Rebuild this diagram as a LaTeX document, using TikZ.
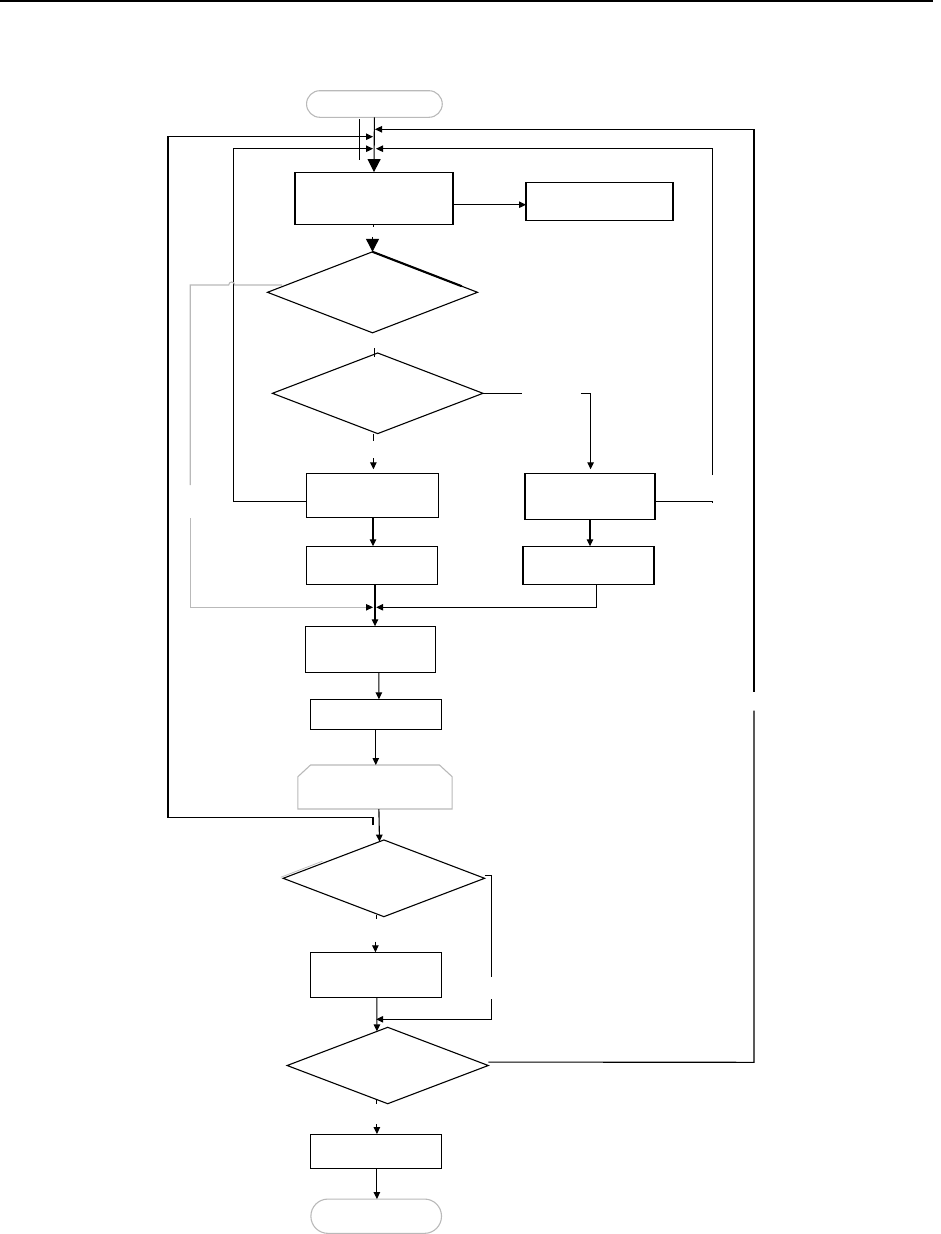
\documentclass[tikz,border=0pt]{standalone}
\usetikzlibrary{arrows.meta,shapes.geometric,calc}
\begin{document}
\begin{tikzpicture}[x=1pt,y=-1pt]
\tikzset{
  ln/.style={line width=1.1pt},
  box/.style={draw, rectangle, inner sep=0pt, outer sep=0pt, line width=1.1pt},
  dia/.style={draw, diamond, inner sep=0pt, outer sep=0pt, line width=1.1pt},
  term/.style={draw=gray!55, rectangle, inner sep=0pt, outer sep=0pt, line width=1.1pt},
  arr/.style={ln, -{Triangle[length=7pt,width=6.5pt]}},
  bigarr/.style={ln, -{Triangle[length=13pt,width=13pt]}},
  grayln/.style={draw=gray!55, line width=1.1pt},
  grayarr/.style={grayln, -{Triangle[length=7pt,width=6.5pt,color=black]}},
}
\useasboundingbox (0,0) rectangle (941,1234);
% page rule
\draw[line width=1.2pt] (0,1) -- (933,1);

% nodes
\node[term, minimum width=135.7pt, minimum height=26.6pt, rounded corners=13.3pt] (start) at (374.4,104) {};
\node[box, minimum width=158pt, minimum height=52.3pt] (b1) at (374,198.2) {};
\node[box, minimum width=147pt, minimum height=38pt] (b2) at (599.5,201.3) {};
\node[dia, minimum width=210pt, minimum height=81pt] (d1) at (372.5,292.3) {};
\node[dia, minimum width=210.5pt, minimum height=80.6pt] (d2) at (377.7,393.3) {};
\node[box, minimum width=131.8pt, minimum height=44pt] (b3) at (372.4,495.3) {};
\node[box, minimum width=130pt, minimum height=46pt] (b4) at (590,496.3) {};
\node[box, minimum width=130.6pt, minimum height=38pt] (b5) at (371.8,565.3) {};
\node[box, minimum width=131pt, minimum height=38pt] (b6) at (588.5,565.3) {};
\node[box, minimum width=130.2pt, minimum height=46pt] (b7) at (370.8,649.3) {};
\node[box, minimum width=130.2pt, minimum height=30pt] (b8) at (376,714.3) {};
\node[rectangle, inner sep=0pt, outer sep=0pt, minimum width=154.3pt, minimum height=44pt] (s9) at (375,787) {};
\draw[grayln] (s9.south west) -- ($(s9.north west)+(0,11.7)$) -- ($(s9.north west)+(12.7,0)$)
  -- ($(s9.north east)+(-12.7,0)$) -- ($(s9.north east)+(0,11.7)$) -- (s9.south east) -- cycle;
\node[dia, minimum width=201.4pt, minimum height=76.7pt] (d3) at (383.9,878.3) {};
\node[box, minimum width=130.2pt, minimum height=45pt] (b10) at (376,974.8) {};
\node[dia, minimum width=201.1pt, minimum height=76.4pt] (d4) at (387.7,1065.5) {};
\node[box, minimum width=130.2pt, minimum height=34.3pt] (b11) at (376,1151.2) {};
\node[term, minimum width=130.6pt, minimum height=34.3pt, rounded corners=17pt] (end) at (376.2,1216.2) {};

% decorative details of the shapes
\draw[line width=2.1pt] (d1.north) -- ($(d1.north)!0.85!(d1.east)$);
\draw[gray!50, line width=0.8pt] ($(d3.west)+(-2.5,-1)$) -- ($(d3.west)!0.4!(d3.north)+(-1,-1.8)$);

% junction points on the main line
\coordinate (jR) at (375,129.3);
\coordinate (jL) at (373,136.7);
\coordinate (jIL) at (373,148.7);
\coordinate (jIR) at (376,148.7);
\coordinate (jB) at (373,607.3);
\coordinate (jB2) at (376.2,607.3);
\coordinate (jC) at (376.2,1019.3);

% main line start -> b1
\draw[bigarr] (start.south) -- (b1.north);
\draw[ln] ($(start.south)+(-15,2)$) -- ++(0,41);

% right outer loop (from d4)
\draw[ln] ($(d4.east)+(0,-3.4)$) -- (754,1062.3) -- (754,710.7);
\draw[arr] (754,691.7) |- (jR);

% left outer loop (from below s9)
\draw[arr] ($(s9.south)+(-2,16)$) |- (168,817.3) |- (jL);

% inner left loop (from b3)
\draw[arr] ($(b3.west)+(0,6)$) -| (233.7,148.7) -- (jIL);

% inner right loop (from b4)
\draw[ln] ($(b4.east)+(0,5)$) -- (712.1,501.3) -- ++(0,2);
\draw[arr] (712.1,475) |- (jIR);

% b1 -> b2
\draw[arr] ($(b1.east)+(0,6.5)$) -- ($(b2.west)+(0,3.4)$);

% b1 -> d1
\draw[ln] ($(b1.south)+(-0.6,0)$) -- ++(0,2.4);
\draw[bigarr] ($(d1.north)+(0,-15)$) -- (d1.north);

% d1 -> d2
\draw[ln] ($(d2.north)+(-3,-4.7)$) -- ++(0,9);

% gray connector from d1 to the junction
\draw[grayln] (282,285) -- (234.7,285) arc (0:-180:3) -- (190.2,285) -- (190.2,485);
\draw[grayarr] (190.2,518.3) |- (jB);

% d2 -> b3
\draw[ln] ($(d2.south)+(-4.3,0)$) -- ++(0,7);
\draw[arr] ($(b3.north)+(1,-15)$) -- ($(b3.north)+(1,-4)$);

% d2 -> b4
\draw[ln] (d2.east) -- ++(39.2,0);
\draw[arr] (580.8,393.3) -| ($(b4.north)+(0.6,-4)$);

% boxes
\draw[arr] ($(b3.south)+(0.6,0)$) -- ($(b5.north)+(1.2,0)$);
\draw[arr] (b4.south) -- ($(b6.north)+(1.5,0)$);
\draw[arr] ($(b6.south)+(7.7,0)$) |- (jB2);
\draw[arr] ($(b5.south)+(3.2,0)$) -- ($(b7.north)+(4.2,0)$);
\draw[arr] ($(b7.south)+(8.1,0)$) -- ($(b8.north)+(2.9,0)$);
\draw[arr] ($(b8.south)+(-0.2,0)$) -- ($(s9.north)+(0.8,0)$);
\draw[arr] ($(s9.south)+(3.9,0)$) -- ($(d3.west)!0.956!(d3.north)$);

% d3 -> b10
\draw[ln] ($(d3.south)+(-7.7,-2)$) -- ++(0,4);
\draw[arr] ($(b10.north)+(-0.6,-10.6)$) -- ($(b10.north)+(-0.6,0)$);

% d3 bypass
\draw[ln] ($(d3.east)+(0,-3)$) -| (491.7,976.7);
\draw[arr] (491.7,999) |- (jC);

% b10 -> d4
\draw[arr] ($(b10.south)+(0.9,0)$) -- ($(d4.west)!0.893!(d4.north)$);

% d4 -> b11 -> end
\draw[ln] ($(d4.south)+(-10.8,-3.6)$) -- ++(0,3.6);
\draw[arr] ($(b11.north)+(0.9,-10)$) -- ($(b11.north)+(0.9,0)$);
\draw[arr] ($(b11.south)+(0.9,0)$) -- ($(end.north)+(0.7,0)$);
\end{tikzpicture}
\end{document}
